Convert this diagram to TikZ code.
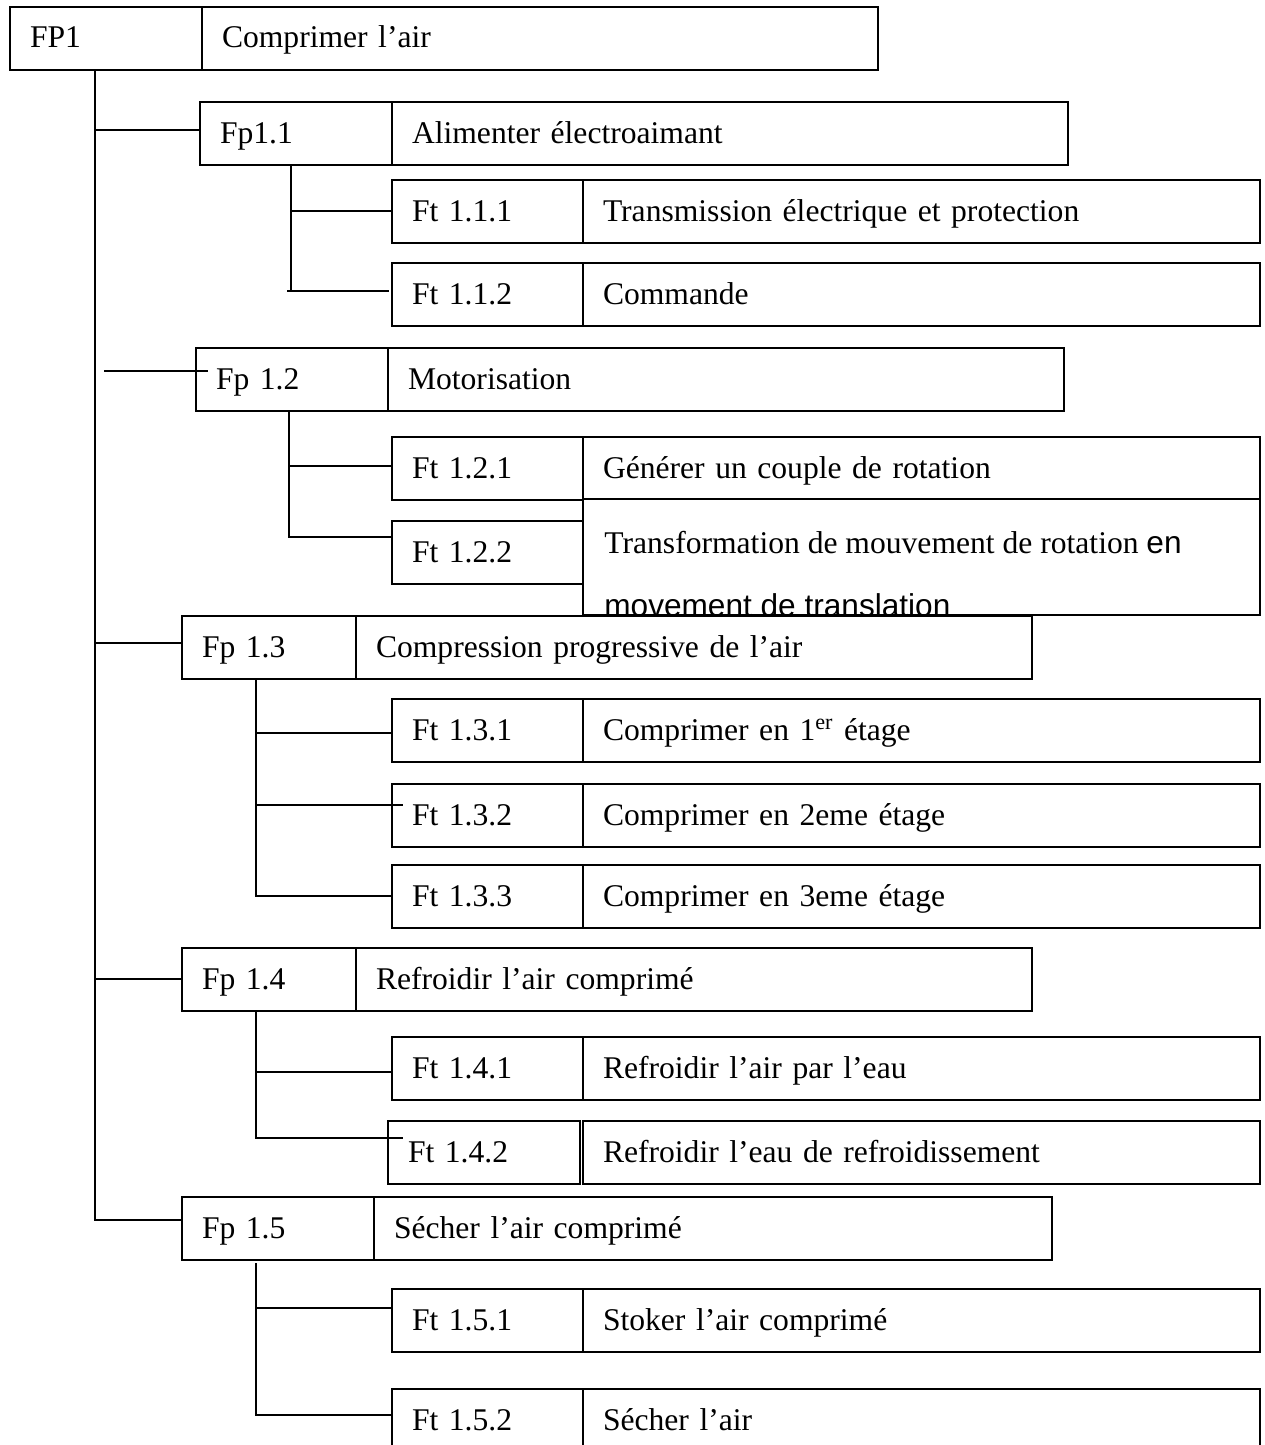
\documentclass[tikz,border=0pt]{standalone}
\usepackage{fontspec}
\setmainfont{Liberation Serif}
\newfontfamily\arialfont{Liberation Sans}

\begin{document}
\begin{tikzpicture}[x=0.5pt, y=-0.5pt, font=\fontsize{15.8}{19}\selectfont,
    box/.style={draw, line width=1pt, fill=white, anchor=north west, inner xsep=10pt, inner ysep=0pt, outer sep=0pt,
        minimum height=31.5pt, text height=13.5pt, text depth=4pt, align=left, text width=#1},
    fpcode/.style={box=76pt},
    fpcodeshort/.style={box=67pt},
    ftcode/.style={box=75.5pt},
    fplabel/.style={box=318pt},
    ftlabel/.style={box=318.5pt},
    link/.style={line width=1pt}]
        \useasboundingbox (0,0) rectangle (1264,1445);

        % FP1
        \node[fpcode] (fp1c) at (10,7) {FP1};
        \node[fplabel] (fp1l) at (202,7) {Comprimer l’air};

        % Fp 1.1
        \node[fpcode] (fp11c) at (200,102) {Fp1.1};
        \node[fplabel] (fp11l) at (392,102) {Alimenter électroaimant};
        \node[ftcode] (ft111c) at (392,180) {Ft 1.1.1};
        \node[ftlabel] (ft111l) at (583,180) {Transmission électrique et protection};
        \node[ftcode] (ft112c) at (392,263) {Ft 1.1.2};
        \node[ftlabel] (ft112l) at (583,263) {Commande};

        % Fp 1.2
        \node[fpcode] (fp12c) at (196,348) {Fp 1.2};
        \node[fplabel] (fp12l) at (388,348) {Motorisation};
        \node[ftcode] (ft121c) at (392,437) {Ft 1.2.1};
        \node[ftlabel] (ft121l) at (583,437) {Générer un couple de rotation};
        \node[ftcode] (ft122c) at (392,521) {Ft 1.2.2};
        \node[ftlabel, minimum height=58pt] (ft122l) at (583,499) {};
        \node[anchor=base west, inner sep=0pt] (ft122a) at (604,553) {Transformation de mouvement de rotation {\arialfont en}};
        \node[anchor=base west, inner sep=0pt] (ft122b) at (604,616) {\arialfont movement de translation};

        % Fp 1.3
        \node[fpcodeshort] (fp13c) at (182,616) {Fp 1.3};
        \node[fplabel] (fp13l) at (356,616) {Compression progressive de l’air};
        \node[ftcode] (ft131c) at (392,699) {Ft 1.3.1};
        \node[ftlabel] (ft131l) at (583,699) {Comprimer en 1\textsuperscript{er} étage};
        \node[ftcode] (ft132c) at (392,784) {Ft 1.3.2};
        \node[ftlabel] (ft132l) at (583,784) {Comprimer en 2eme étage};
        \node[ftcode] (ft133c) at (392,865) {Ft 1.3.3};
        \node[ftlabel] (ft133l) at (583,865) {Comprimer en 3eme étage};

        % Fp 1.4
        \node[fpcodeshort] (fp14c) at (182,948) {Fp 1.4};
        \node[fplabel] (fp14l) at (356,948) {Refroidir l’air comprimé};
        \node[ftcode] (ft141c) at (392,1037) {Ft 1.4.1};
        \node[ftlabel] (ft141l) at (583,1037) {Refroidir l’air par l’eau};
        \node[fpcode] (ft142c) at (388,1121) {Ft 1.4.2};
        \node[ftlabel] (ft142l) at (583,1121) {Refroidir l’eau de refroidissement};

        % Fp 1.5
        \node[fpcode] (fp15c) at (182,1197) {Fp 1.5};
        \node[box=319pt] (fp15l) at (374,1197) {Sécher l’air comprimé};
        \node[ftcode] (ft151c) at (392,1289) {Ft 1.5.1};
        \node[ftlabel] (ft151l) at (583,1289) {Stoker l’air comprimé};
        \node[ftcode] (ft152c) at (392,1389) {Ft 1.5.2};
        \node[ftlabel] (ft152l) at (583,1389) {Sécher l’air};

        % Main trunk
        \coordinate (top) at (95,71);
        \coordinate (j11) at (95,130);
        \coordinate (j12) at (104,371);
        \coordinate (j13) at (95,643);
        \coordinate (j14) at (95,979);
        \draw[link] (top) -- (j14) |- ([yshift=4.25pt]fp15c.west);
        \draw[link] (j11) -- (j11 -| fp11c.west);
        \draw[link] (j12) -- (j12 -| fp12c.west) -- ++(12,0);
        \draw[link] (j13) -- (j13 -| fp13c.west);
        \draw[link] (j14) -- (j14 -| fp14c.west);

        % Branches of Fp 1.1
        \coordinate (s11) at (291,166);
        \coordinate (e11) at (291,291);
        \draw[link] (s11) -- (e11);
        \draw[link] (s11 |- 0,211) -- (ft111c.west |- 0,211);
        \draw[link] ([xshift=-2pt]e11) -- ([xshift=-1.5pt]e11 -| ft112c.west);

        % Branches of Fp 1.2
        \coordinate (s12) at (289,412);
        \draw[link] (s12) |- (ft121c.west |- 0,466);
        \draw[link] (s12) |- (ft122c.west |- 0,537);

        % Branches of Fp 1.3
        \coordinate (s13) at (256,679);
        \draw[link] (s13) |- (ft131c.west |- 0,733);
        \draw[link] (s13) |- (ft132c.west |- 0,805) -- ++(11,0);
        \draw[link] (s13) |- (ft133c.west |- 0,896);

        % Branches of Fp 1.4
        \coordinate (s14) at (256,1011);
        \draw[link] (s14) |- (ft141c.west |- 0,1072);
        \draw[link] (s14) |- (ft142c.west |- 0,1138) -- ++(15,0);

        % Branches of Fp 1.5
        \coordinate (s15) at (256,1263);
        \draw[link] (s15) |- (ft151c.west |- 0,1308);
        \draw[link] (s15) |- (ft152c.west |- 0,1415);
\end{tikzpicture}
\end{document}
